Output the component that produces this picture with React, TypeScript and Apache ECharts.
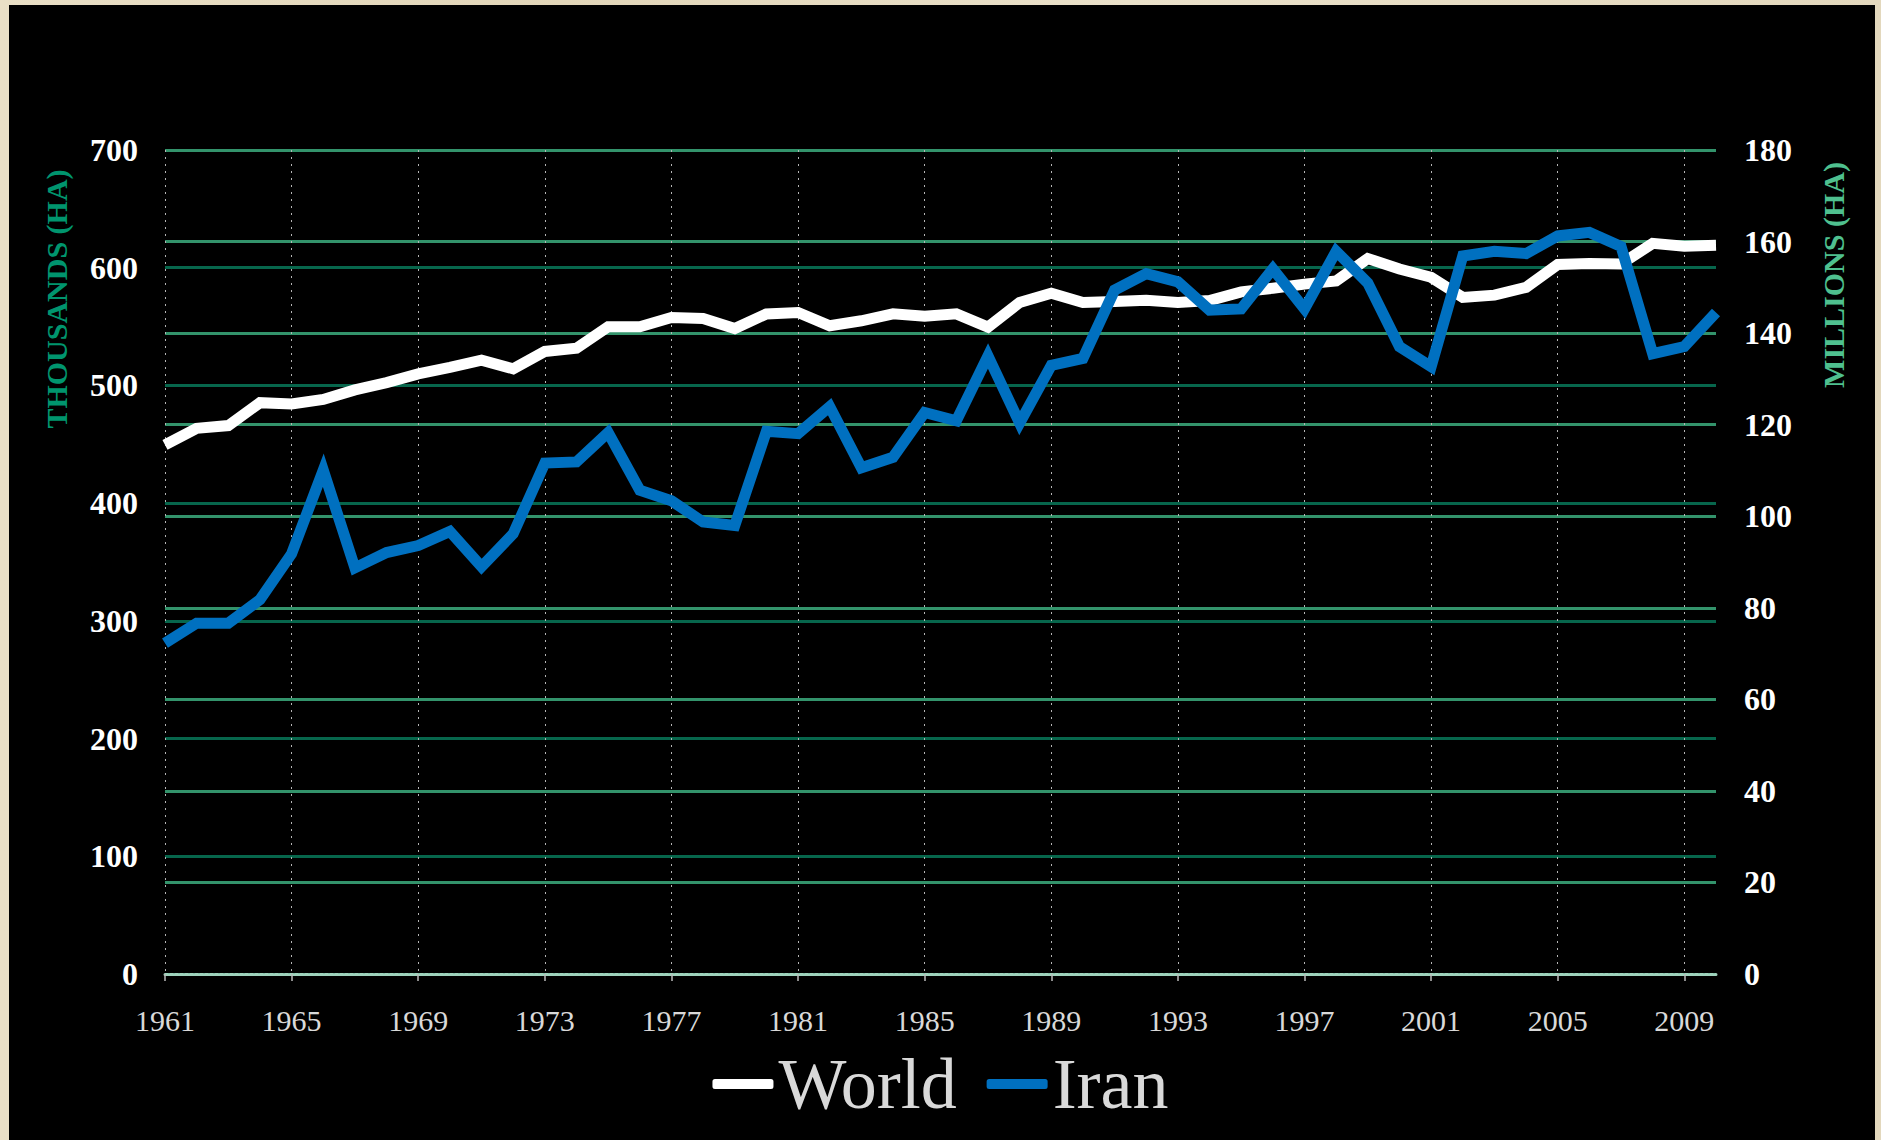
import React, { useEffect, useRef } from "react";
import * as echarts from "echarts";

const years: string[] = [];
for (let y = 1961; y <= 2010; y++) years.push(String(y));

// World harvested area, millions of hectares (right axis)
const worldValues = [
  115.6, 119.2, 119.8, 124.8, 124.5, 125.5, 127.6, 129.2, 131.1, 132.5,
  134.1, 132.2, 136.0, 136.7, 141.4, 141.4, 143.4, 143.2, 141.0, 144.2,
  144.5, 141.6, 142.7, 144.2, 143.7, 144.2, 141.3, 146.7, 148.7, 146.7,
  146.9, 147.2, 146.7, 147.1, 149.0, 149.8, 150.7, 151.4, 156.3, 154.0,
  152.2, 147.8, 148.3, 150.0, 155.0, 155.2, 155.1, 159.6, 159.0, 159.2,
];

// Iran harvested area, thousands of hectares (left axis)
const iranValues = [
  281, 298, 298, 318, 357, 428, 345, 358, 364, 376,
  346, 374, 434, 435, 460, 411, 402, 384, 381, 461,
  459, 482, 430, 439, 477, 470, 525, 468, 517, 523,
  581, 595, 588, 564, 565, 599, 565, 614, 587, 533,
  516, 610, 614, 612, 627, 630, 618, 527, 533, 562,
];

const leftTitle = "THOUSANDS (HA)";
const rightTitle = "MILLIONS (HA)";
const seriesNames = ["World", "Iran"];

const FONT = "'Liberation Serif', 'Times New Roman', serif";

export default function App() {
  const ref = useRef<HTMLDivElement>(null);

  useEffect(() => {
    if (!ref.current) return;
    const chart = echarts.init(ref.current, undefined, { renderer: "svg" });
    chart.setOption({
      animation: false,
      backgroundColor: "transparent",
      grid: { left: 165, right: 165, top: 150, bottom: 166, containLabel: false },
      legend: {
        data: [
          { name: seriesNames[0], icon: "roundRect" },
          { name: seriesNames[1], icon: "roundRect" },
        ],
        left: "center",
        top: 1043,
        itemWidth: 61,
        itemHeight: 10,
        itemGap: 30,
        textStyle: { color: "#d9d9d9", fontFamily: FONT, fontSize: 72 },
      },
      xAxis: {
        type: "category",
        data: years,
        boundaryGap: false,
        axisLine: {
          show: true,
          lineStyle: { color: "#9fd3bd", width: 3, type: [3, 2] },
        },
        axisTick: {
          show: true,
          interval: 3,
          length: 7,
          lineStyle: { color: "#bbbbbb", width: 1.5 },
        },
        axisLabel: {
          interval: 3,
          color: "#d9d9d9",
          fontFamily: FONT,
          fontSize: 30,
          margin: 31,
        },
        splitLine: {
          show: true,
          interval: 3,
          lineStyle: { color: "#b5b5b5", width: 1, type: [2, 5] },
        },
      },
      yAxis: [
        {
          type: "value",
          position: "left",
          min: 0,
          max: 700,
          interval: 100,
          axisLine: { show: false },
          axisTick: { show: false },
          axisLabel: {
            color: "#ffffff",
            fontFamily: FONT,
            fontWeight: "bold",
            fontSize: 32,
            margin: 27,
          },
          splitLine: { show: true, lineStyle: { color: "#07664c", width: 3 } },
        },
        {
          type: "value",
          position: "right",
          min: 0,
          max: 180,
          interval: 20,
          axisLine: { show: false },
          axisTick: { show: false },
          axisLabel: {
            color: "#ffffff",
            fontFamily: FONT,
            fontWeight: "bold",
            fontSize: 32,
            margin: 28,
          },
          splitLine: { show: true, lineStyle: { color: "#33936b", width: 3 } },
        },
      ],
      series: [
        {
          name: seriesNames[0],
          type: "line",
          yAxisIndex: 1,
          data: worldValues,
          showSymbol: false,
          symbol: "none",
          itemStyle: { color: "#ffffff" },
          lineStyle: { color: "#ffffff", width: 11, join: "miter" },
          z: 3,
        },
        {
          name: seriesNames[1],
          type: "line",
          yAxisIndex: 0,
          data: iranValues,
          showSymbol: false,
          symbol: "none",
          itemStyle: { color: "#0070c0" },
          lineStyle: { color: "#0070c0", width: 11, join: "miter" },
          z: 4,
        },
      ],
      graphic: [
        {
          type: "text",
          x: 56,
          y: 299,
          rotation: Math.PI / 2,
          silent: true,
          style: {
            text: leftTitle,
            fill: "#00956e",
            font: `bold 30px ${FONT}`,
            textAlign: "center",
            textVerticalAlign: "middle",
          },
        },
        {
          type: "text",
          x: 1833,
          y: 275,
          rotation: Math.PI / 2,
          silent: true,
          style: {
            text: rightTitle,
            fill: "#4fc08f",
            font: `bold 30px ${FONT}`,
            textAlign: "center",
            textVerticalAlign: "middle",
          },
        },
      ],
    });
    return () => chart.dispose();
  }, []);

  return (
    <div
      style={{
        position: "fixed",
        left: 0,
        top: 0,
        width: 1881,
        height: 1140,
        background:
          "linear-gradient(#000, #000) 9px 5px / 1866px 1135px no-repeat, linear-gradient(90deg, #e9dfc6, #e2d6b9 30%, #eae1ca 60%, #e3d8bd)",
      }}
    >
      <div ref={ref} style={{ width: 1881, height: 1140 }} />
    </div>
  );
}
